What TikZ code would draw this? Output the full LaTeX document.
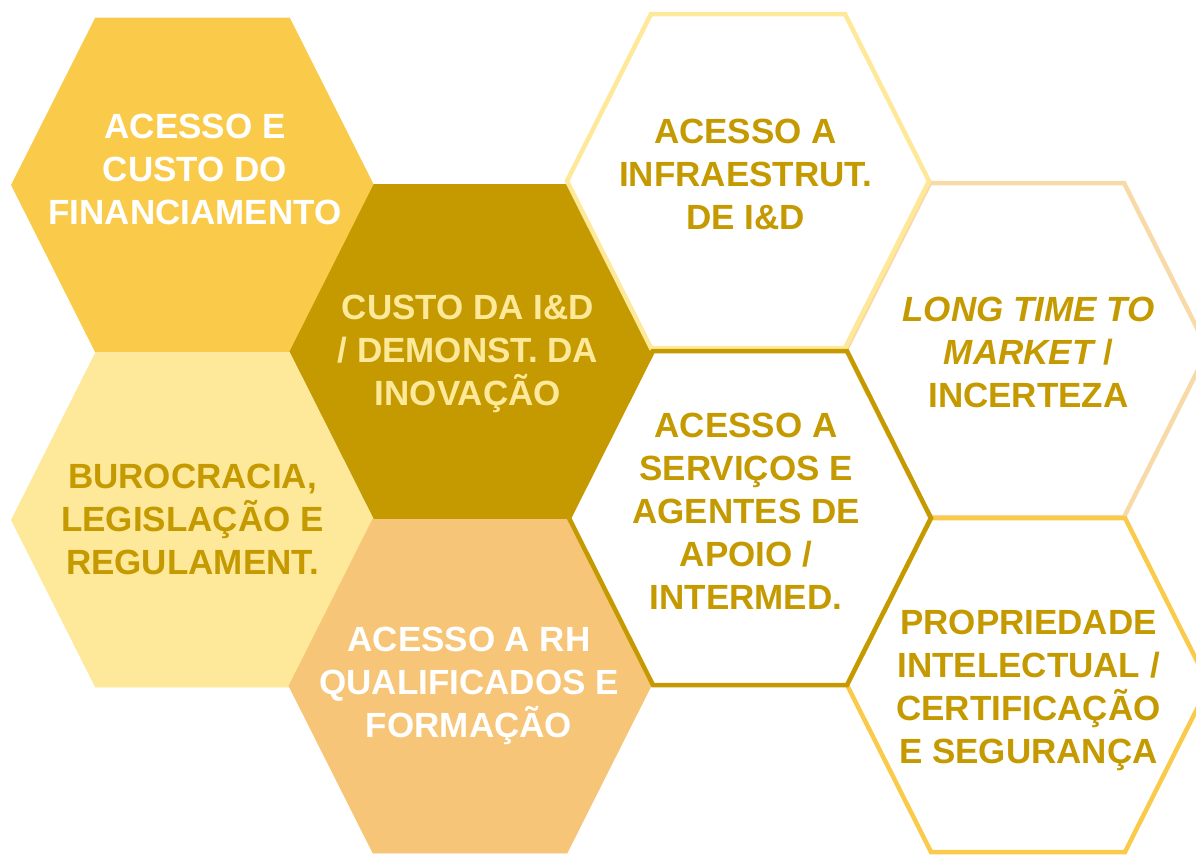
\documentclass[tikz,border=0pt]{standalone}
\usepackage{fontspec}
\setmainfont{Liberation Sans}
\definecolor{goldD}{HTML}{C49A00}
\definecolor{goldM}{HTML}{FACB4B}
\definecolor{goldL}{HTML}{FEE899}
\definecolor{orangeL}{HTML}{F6C577}
\definecolor{tanL}{HTML}{F8D9A8}
\newcommand\hexat[2]{({#1-181},{#2}) -- ({#1-97},{#2-167}) -- ({#1+97},{#2-167}) -- ({#1+181},{#2}) -- ({#1+97},{#2+167}) -- ({#1-97},{#2+167}) -- cycle}
\begin{document}
\begin{tikzpicture}[x=1pt,y=-1pt,
  lbl/.style={align=center,inner sep=0pt,font=\fontsize{35}{43}\selectfont\bfseries},
  filled/.style={fill=#1,draw=#1,line width=0.8pt,line join=miter},
  outl/.style={line width=4.5pt,line join=miter,fill=none}]
\useasboundingbox (0,0) rectangle (1196,854);
\begin{scope}
\clip (0,0) rectangle (1196,854);
% filled hexagons
\path[filled=goldM] \hexat{192.5}{185};
\path[filled=goldL] \hexat{192.5}{520};
\path[filled=orangeL] \hexat{470}{686};
\path[filled=goldD] \hexat{471}{351.5};
% outlined hexagons
\draw[outl,tanL] \hexat{1027}{350};
\draw[outl,goldL] \hexat{748}{181};
\draw[outl,goldM] \hexat{1028}{685};
\draw[outl,goldD] \hexat{750}{518};
\end{scope}
% labels
\node[lbl,text=white] (t1) at (195,169) {ACESSO E\\CUSTO DO\\FINANCIAMENTO};
\node[lbl,text=goldL] (t2) at (468,354) {CUSTO DA I\&D\\/ DEMONST. DA\\INOVAÇÃO};
\node[lbl,text=goldD] (t3) at (192.5,519) {BUROCRACIA,\\LEGISLAÇÃO E\\REGULAMENT.};
\node[lbl,text=white] (t4) at (469,686) {ACESSO A RH\\QUALIFICADOS E\\FORMAÇÃO};
\node[lbl,text=goldD] (t5) at (745.5,174) {ACESSO A\\INFRAESTRUT.\\DE I\&D};
\node[lbl,text=goldD] (t6) at (746,511.5) {ACESSO A\\SERVIÇOS E\\AGENTES DE\\APOIO /\\INTERMED.};
\node[lbl,text=goldD] (t7) at (1028.5,352) {\itshape LONG TIME TO\\\itshape MARKET\upshape{} /\\INCERTEZA};
\node[lbl,text=goldD] (t8) at (1028.5,690) {PROPRIEDADE\\INTELECTUAL /\\CERTIFICAÇÃO\\E SEGURANÇA};
\end{tikzpicture}
\end{document}
